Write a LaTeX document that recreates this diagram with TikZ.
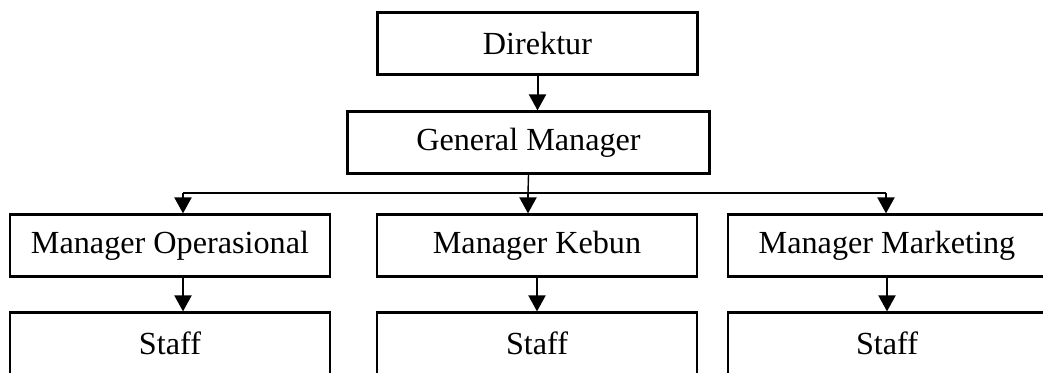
\documentclass[tikz,border=0pt]{standalone}
\usepackage{fontspec}
\setmainfont{Liberation Serif}
\usetikzlibrary{arrows.meta}

\tikzset{
    box/.style={draw, line width=1.1pt, inner sep=0pt, minimum height=31pt,
        font=\fontsize{16.1}{18}\selectfont},
    arrow/.style={line width=1pt, -{Triangle[width=8.5pt,length=8pt]}}
}

\begin{document}
\begin{tikzpicture}[x=0.5pt,y=-0.5pt]
        \clip (0,0) rectangle (1043,372);
        % Top of the chart
        \node[box, minimum width=160pt] (dir) at (537.5,43.5) {Direktur};
        \node[box, minimum width=181pt] (gm) at (528.5,142.5) {General Manager};
        % Managers
        \node[box, minimum width=160pt] (mo) at (170,245.5) {Manager Operasional};
        \node[box, minimum width=160pt] (mk) at (537,245.5) {Manager Kebun};
        \node[box, minimum width=159pt] (mm) at (887,245.5) {Manager Marketing};
        % Staff
        \node[box, minimum width=160pt] (so) at (170,343.5) {Staff};
        \node[box, minimum width=160pt] (sk) at (537,343.5) {Staff};
        \node[box, minimum width=159pt] (sm) at (887,343.5) {Staff};
        % Branch points
        \coordinate (split) at (528,193);
        \coordinate (jl) at (183,193);
        \coordinate (jr) at (886,193);
        % Connectors
        \draw[arrow] (dir.south) -- (dir.south |- gm.north);
        \draw[line width=0.7pt] (gm.south) -- (split);
        \draw[line width=0.7pt] (jl) -- (jr);
        \draw[arrow] (jl) -- (jl |- mo.north);
        \draw[arrow] (split) -- (split |- mk.north);
        \draw[arrow] (jr) -- (jr |- mm.north);
        \draw[arrow] (jl |- mo.south) -- (jl |- so.north);
        \draw[arrow] (mk.south) -- (sk.north);
        \draw[arrow] (mm.south) -- (sm.north);
    \end{tikzpicture}
\end{document}
